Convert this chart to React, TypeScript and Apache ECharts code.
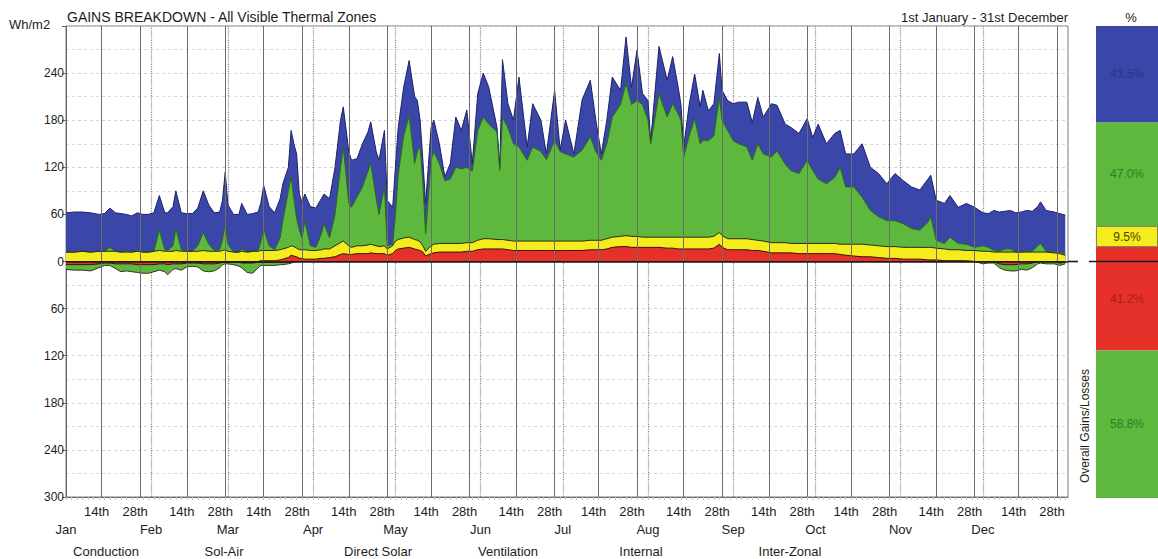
import { useEffect, useRef } from 'react';
import * as echarts from 'echarts';

// ---------- data ----------
const monthNames = ['Jan', 'Feb', 'Mar', 'Apr', 'May', 'Jun', 'Jul', 'Aug', 'Sep', 'Oct', 'Nov', 'Dec'];
const monthStartDays = [0, 31, 59, 90, 120, 151, 181, 212, 243, 273, 304, 334];
const dayMarkLabels = ['14th', '28th'];
const dayMarkOffsets = [13, 27];
const legendNames = ['Conduction', 'Sol-Air', 'Direct Solar', 'Ventilation', 'Internal', 'Inter-Zonal'];

// day of year (0 = 1st January)
const days = [
  0, 3, 6, 9, 12, 14, 16, 18, 20, 22,
  24, 26, 28, 30, 32, 34, 36, 37, 39, 40,
  42, 44, 46, 48, 50, 52, 54, 56, 57, 58,
  59, 61, 63, 64, 66, 68, 70, 71, 72, 74,
  76, 78, 79, 81, 82, 83, 84, 85, 86, 87,
  89, 91, 93, 94, 96, 98, 100, 101, 103, 104,
  106, 108, 110, 111, 113, 114, 116, 117, 119, 120,
  121, 123, 125, 127, 128, 129, 130, 131, 133, 134,
  136, 138, 140, 142, 144, 146, 148, 150, 152, 154,
  157, 158, 159, 161, 163, 165, 168, 170, 173, 175,
  178, 180, 182, 185, 188, 191, 193, 195, 197, 199,
  202, 204, 206, 208, 210, 212, 213, 216, 219, 221,
  223, 224, 225, 227, 229, 231, 232, 234, 236, 238,
  239, 241, 243, 245, 248, 250, 252, 254, 257, 259,
  262, 264, 267, 270, 272, 274, 277, 280, 282, 284,
  287, 290, 293, 296, 299, 302, 305, 308, 311, 314,
  315, 317, 320, 322, 325, 328, 331, 334, 336, 338,
  340, 342, 344, 346, 348, 350, 352, 354, 355, 357,
  360, 362, 364,
];

// cumulative level of the blue band (total gains), Wh/m2
const blueLevel = [
  62, 63, 63, 62, 60, 61, 68, 62, 61, 60,
  58, 62, 60, 60, 62, 84, 62, 62, 70, 90,
  62, 61, 61, 68, 90, 72, 62, 63, 78, 114,
  72, 60, 60, 74, 60, 61, 63, 75, 97, 70,
  62, 80, 99, 120, 167, 150, 137, 86, 75, 86,
  70, 68, 80, 86, 80, 120, 180, 197, 140, 129,
  131, 150, 165, 178, 140, 129, 167, 78, 69, 120,
  170, 222, 256, 210, 205, 180, 129, 74, 171, 180,
  150, 108, 125, 184, 167, 193, 125, 214, 240, 222,
  171, 120, 257, 201, 180, 235, 146, 201, 180, 137,
  218, 142, 180, 137, 206, 231, 180, 137, 180, 235,
  218, 286, 222, 269, 214, 205, 154, 274, 231, 261,
  222, 200, 146, 200, 239, 197, 218, 192, 201, 265,
  218, 205, 201, 203, 203, 177, 209, 184, 201, 199,
  175, 171, 163, 182, 158, 175, 150, 163, 167, 137,
  137, 150, 120, 112, 99, 112, 103, 95, 91, 105,
  110, 78, 74, 84, 69, 74, 69, 62, 61, 65,
  63, 64, 65, 62, 63, 65, 64, 70, 76, 65,
  63, 61, 59,
];

// cumulative level of the green band
const greenLevel = [
  12, 12, 13, 12, 13, 13, 18, 13, 12, 13,
  12, 14, 12, 12, 13, 40, 15, 14, 20, 42,
  15, 13, 13, 20, 37, 22, 14, 15, 28, 48,
  22, 12, 12, 16, 12, 13, 14, 25, 42, 20,
  15, 30, 52, 90, 108, 80, 55, 40, 30, 52,
  20, 18, 35, 48, 30, 60, 120, 146, 75, 69,
  82, 95, 115, 125, 80, 60, 95, 20, 22, 60,
  110, 160, 186, 125, 140, 146, 100, 35, 130, 140,
  125, 103, 105, 120, 118, 120, 115, 167, 184, 175,
  165, 116, 184, 170, 150, 146, 129, 146, 140, 130,
  154, 140, 137, 133, 142, 159, 140, 129, 150, 184,
  200, 227, 200, 205, 200, 180, 150, 214, 184, 201,
  188, 180, 133, 160, 182, 150, 154, 154, 160, 209,
  180, 167, 154, 150, 146, 129, 150, 137, 133, 141,
  124, 116, 112, 129, 116, 105, 99, 107, 120, 95,
  95, 82, 65, 57, 52, 52, 48, 42, 40, 50,
  57, 27, 23, 31, 23, 22, 18, 20, 18, 14,
  13, 16, 16, 12, 12, 13, 13, 20, 23, 13,
  12, 12, 9,
];

// cumulative level of the yellow band
const yellowLevel = [
  12, 12, 13, 12, 13, 13, 13, 13, 12, 12,
  12, 13, 12, 12, 13, 14, 13, 13, 13, 14,
  13, 13, 13, 13, 14, 13, 13, 13, 14, 15,
  13, 12, 12, 13, 12, 13, 13, 14, 14, 14,
  14, 15, 16, 18, 20, 19, 17, 15, 15, 15,
  14, 14, 15, 16, 16, 20, 24, 26, 20, 18,
  20, 20, 21, 22, 20, 19, 20, 16, 20, 26,
  28, 30, 31, 28, 27, 25, 20, 13, 20, 22,
  23, 23, 23, 23, 23, 24, 24, 27, 29, 29,
  28, 28, 28, 27, 26, 26, 26, 26, 26, 26,
  26, 26, 26, 26, 26, 27, 27, 27, 29, 31,
  32, 33, 32, 32, 31, 31, 31, 31, 31, 31,
  31, 31, 31, 31, 31, 31, 31, 31, 32, 37,
  33, 29, 29, 29, 29, 28, 27, 26, 24, 24,
  24, 23, 23, 23, 23, 23, 23, 23, 22, 22,
  22, 22, 21, 20, 19, 19, 18, 18, 18, 18,
  18, 17, 16, 15, 15, 14, 14, 13, 13, 12,
  12, 12, 12, 12, 12, 12, 12, 12, 12, 12,
  11, 10, 8,
];

// level of the red band
const redLevel = [
  0, 0, 0, 0, 0, 0, 0, 0, 0, 0,
  0, 0, 0, 0, 0, 0, 0, 0, 0, 0,
  0, 0, 0, 0, 0, 0, 0, 0, 0, 0,
  0, 0, 0, 0, 0, 0, 0, 1, 1, 1,
  1, 2, 3, 5, 8, 7, 6, 4, 4, 3,
  3, 3, 4, 4, 5, 6, 9, 10, 9, 9,
  10, 10, 10, 11, 10, 10, 10, 8, 10, 14,
  16, 17, 18, 16, 15, 14, 12, 7, 10, 11,
  12, 12, 12, 12, 12, 13, 13, 15, 16, 16,
  16, 16, 16, 15, 14, 14, 14, 14, 14, 14,
  14, 14, 14, 14, 14, 15, 15, 15, 16, 18,
  19, 19, 18, 18, 18, 18, 18, 18, 17, 17,
  16, 16, 16, 16, 16, 16, 16, 16, 17, 22,
  18, 15, 15, 15, 15, 14, 14, 13, 11, 11,
  11, 11, 10, 10, 10, 10, 10, 10, 9, 8,
  7, 6, 6, 5, 4, 4, 3, 3, 3, 2,
  2, 2, 1, 1, 1, 1, 0, 0, 0, 0,
  0, 0, 0, 0, 0, 0, 0, 0, 0, 0,
  0, 0, 0,
];

// losses (below zero)
const lossDays = [
  0, 3, 6, 9, 12, 14, 16, 18, 20, 22,
  24, 26, 28, 30, 32, 34, 36, 37, 39, 40,
  42, 44, 46, 48, 50, 52, 54, 56, 57, 58,
  59, 61, 63, 64, 66, 68, 70, 71, 72, 74,
  76, 78, 79, 81, 82, 83, 84, 85, 86, 87,
  331, 334, 336, 338, 340, 342, 344, 346, 348, 350,
  352, 354, 355, 357, 360, 362, 364,
];
const greenLoss = [
  -10, -11, -11, -12, -8, -5, -5, -9, -13, -12,
  -13, -14, -15, -15, -13, -11, -13, -17, -10, -9,
  -11, -7, -6, -7, -12, -13, -12, -8, -4, -3,
  -3, -4, -6, -8, -14, -15, -8, -5, -5, -5,
  -5, -4, -4, -3, -2, -1, 0, 0, 0, 0,
  0, -3, -2, -2, -8, -11, -12, -12, -10, -11,
  -8, -3, -2, -3, -3, -5, -3,
];
const redLoss = [
  -4, -4, -4, -4, -3, -2, -2, -3, -3, -3,
  -3, -4, -4, -4, -4, -3, -3, -4, -3, -3,
  -3, -2, -2, -2, -3, -3, -3, -2, -1, -1,
  -1, -1, -1, -2, -2, -2, -1, -1, -1, -1,
  -1, -1, -1, -1, 0, 0, 0, 0, 0, 0,
  0, 0, 0, 0, -3, -4, -4, -4, -3, -3,
  -2, 0, 0, 0, 0, -2, -1,
];

// right-hand percentage panel
const gainShareNames = ['yellow', 'green', 'blue'];
const gainShares = [9.5, 47.0, 43.5];
const overallShareNames = ['red', 'green'];
const overallShares = [41.2, 58.8];

// ---------- presentation ----------
const FONT = '"Liberation Sans", Arial, Helvetica, sans-serif';
const TXT = '#1c1c1c';
const C = {
  blue: '#3b47a8', blueLine: '#1d2268',
  green: '#5db83d', greenLine: '#2a6a1c',
  yellow: '#f4ec1c', yellowLine: '#2a2a1a',
  red: '#e6302a', redLine: '#3a1010',
};

function pairs(xs: number[], ys: number[]) {
  return xs.map((x, i) => [x, ys[i]]);
}

export default function App() {
  const ref = useRef<HTMLDivElement>(null);

  useEffect(() => {
    if (!ref.current) return;
    const chart = echarts.init(ref.current, null, { renderer: 'svg' });

    const dayLabelValues: number[] = [];
    const dayLabelText: Record<number, string> = {};
    monthStartDays.forEach((m) =>
      dayMarkOffsets.forEach((o, k) => {
        dayLabelValues.push(m + o);
        dayLabelText[m + o] = dayMarkLabels[k];
      })
    );
    const monthText: Record<number, string> = {};
    monthStartDays.forEach((m, i) => (monthText[m] = monthNames[i]));
    const tickDays: number[] = [];
    for (let d = 0; d <= 365; d += 2) tickDays.push(d);

    const area = (name: string, xs: number[], ys: number[], fill: string, stroke: string, extra: any = {}) => ({
      type: 'line',
      name,
      xAxisIndex: 0,
      yAxisIndex: 0,
      data: pairs(xs, ys),
      symbol: 'none',
      showSymbol: false,
      silent: true,
      z: 2,
      lineStyle: { color: stroke, width: 1 },
      areaStyle: { color: fill, opacity: 1 },
      ...extra,
    });

    const solidLines = dayLabelValues.map((d) => ({ xAxis: d }));
    const dottedLines = monthStartDays.filter((d) => d > 0).map((d) => ({ xAxis: d }));

    const shareLabel = (color: string) => ({
      show: true,
      position: 'inside',
      color,
      fontFamily: FONT,
      fontSize: 12,
      formatter: (p: any) => Number(p.value).toFixed(1) + '%',
    });

    const gainColors: Record<string, string> = { yellow: C.yellow, green: C.green, blue: C.blue };
    const gainText: Record<string, string> = { yellow: '#4a4500', green: '#2b7f25', blue: '#2a3390' };
    const overallColors: Record<string, string> = { red: C.red, green: C.green };
    const overallText: Record<string, string> = { red: '#a81d1a', green: '#2b7f25' };

    const text = (t: string, x: number, y: number, size: number, align = 'left', extra: any = {}) => ({
      type: 'text',
      x,
      y,
      silent: true,
      ...extra,
      style: {
        text: t,
        fill: TXT,
        fontFamily: FONT,
        fontSize: size,
        textAlign: align,
        textVerticalAlign: 'middle',
      },
    });

    const option: any = {
      animation: false,
      backgroundColor: '#ffffff',
      textStyle: { fontFamily: FONT },
      grid: [
        { left: 66, top: 26, width: 1002, height: 471, show: true, borderColor: '#7a7a7a', borderWidth: 1, backgroundColor: '#fff', containLabel: false },
        { left: 1096, top: 26, width: 62, height: 221, show: false, containLabel: false },
        { left: 1096, top: 247, width: 62, height: 251, show: false, containLabel: false },
      ],
      xAxis: [
        {
          type: 'value', gridIndex: 0, min: 0, max: 365, position: 'bottom',
          axisLine: { show: true, onZero: false, lineStyle: { color: '#666' } },
          axisTick: { show: true, customValues: tickDays, length: 3, lineStyle: { color: '#c4c4c4' } },
          splitLine: { show: false },
          axisLabel: {
            customValues: dayLabelValues,
            formatter: (v: number) => dayLabelText[v] ?? '',
            color: TXT, fontFamily: FONT, fontSize: 13, margin: 8, padding: [0, 10, 0, 0],
          },
        },
        {
          type: 'value', gridIndex: 0, min: 0, max: 365, position: 'bottom',
          axisLine: { show: false, onZero: false },
          axisTick: { show: false },
          splitLine: { show: false },
          axisLabel: {
            customValues: monthStartDays,
            formatter: (v: number) => monthText[v] ?? '',
            color: TXT, fontFamily: FONT, fontSize: 13, margin: 26,
            showMinLabel: true,
          },
        },
        { type: 'category', gridIndex: 1, data: ['gains'], show: false },
        { type: 'category', gridIndex: 2, data: ['overall'], show: false },
      ],
      yAxis: [
        {
          type: 'value', gridIndex: 0, min: -300, max: 300, interval: 60,
          axisLine: { show: true, lineStyle: { color: '#666' } },
          axisTick: { show: true, length: 4, lineStyle: { color: '#666' } },
          axisLabel: {
            color: TXT, fontFamily: FONT, fontSize: 12, margin: 2,
            formatter: (v: number) => (v === 300 ? '' : String(Math.abs(v))),
          },
          splitLine: { show: true, lineStyle: { color: '#d2d2d2', type: [3, 3] } },
          minorTick: { show: false, splitNumber: 2 },
          minorSplitLine: { show: true, lineStyle: { color: '#d8d8d8', type: [3, 3] } },
        },
        { type: 'value', gridIndex: 1, min: 0, max: 100, show: false },
        { type: 'value', gridIndex: 2, min: 0, max: 100, inverse: true, show: false },
      ],
      series: [
        area('Internal', days, blueLevel, C.blue, C.blueLine, {
          markLine: {
            silent: true, symbol: ['none', 'none'], z: 1, label: { show: false },
            lineStyle: { color: '#8a8a8a', type: 'dotted', width: 1.2 },
            data: dottedLines,
          },
        }),
        area('Direct Solar', days, greenLevel, C.green, C.greenLine),
        area('Sol-Air', days, yellowLevel, C.yellow, C.yellowLine),
        area('Conduction', days, redLevel, C.red, C.redLine),
        area('Ventilation', lossDays, greenLoss, C.green, '#2d3a1c'),
        area('Inter-Zonal', lossDays, redLoss, C.red, C.redLine, {
          markLine: {
            silent: true, symbol: ['none', 'none'], label: { show: false },
            lineStyle: { color: '#6c6c6c', type: 'solid', width: 1 },
            data: [
              ...solidLines,
              { yAxis: 0, lineStyle: { color: '#1a1a1a', width: 1.6, type: 'solid' } },
            ],
          },
        }),
        ...gainShares.map((v, i) => ({
          type: 'bar', name: 'gain-' + gainShareNames[i], xAxisIndex: 2, yAxisIndex: 1, stack: 'gains',
          barWidth: '100%', silent: true, data: [v],
          itemStyle: { color: gainColors[gainShareNames[i]], borderColor: '#555', borderWidth: i === 0 ? 0.8 : 0 },
          label: shareLabel(gainText[gainShareNames[i]]),
        })),
        ...overallShares.map((v, i) => ({
          type: 'bar', name: 'overall-' + overallShareNames[i], xAxisIndex: 3, yAxisIndex: 2, stack: 'overall',
          barWidth: '100%', silent: true, data: [v],
          itemStyle: { color: overallColors[overallShareNames[i]] },
          label: shareLabel(overallText[overallShareNames[i]]),
        })),
      ],
      graphic: [
        text('Wh/m2', 9, 24, 13),
        text('GAINS BREAKDOWN - All Visible Thermal Zones', 67, 17, 14),
        text('1st January - 31st December', 1068, 17, 13, 'right'),
        text('%', 1131, 17, 13, 'center'),
        text('Overall Gains/Losses', 1085, 426, 12, 'center', { rotation: Math.PI / 2 }),
        { type: 'line', silent: true, z: 10, shape: { x1: 1068, y1: 261.5, x2: 1078, y2: 261.5 }, style: { stroke: '#1a1a1a', lineWidth: 1.6 } },
        { type: 'line', silent: true, z: 10, shape: { x1: 1089, y1: 261.5, x2: 1158, y2: 261.5 }, style: { stroke: '#1a1a1a', lineWidth: 1.6 } },
        text(legendNames[0], 106, 551, 13, 'center'),
        text(legendNames[1], 224, 551, 13, 'center'),
        text(legendNames[2], 378, 551, 13, 'center'),
        text(legendNames[3], 508, 551, 13, 'center'),
        text(legendNames[4], 641, 551, 13, 'center'),
        text(legendNames[5], 790, 551, 13, 'center'),
      ],
    };

    chart.setOption(option);
    return () => chart.dispose();
  }, []);

  return (
    <div
      ref={ref}
      style={{ position: 'fixed', left: 0, top: 0, width: 1158, height: 559, background: '#fff' }}
    />
  );
}
